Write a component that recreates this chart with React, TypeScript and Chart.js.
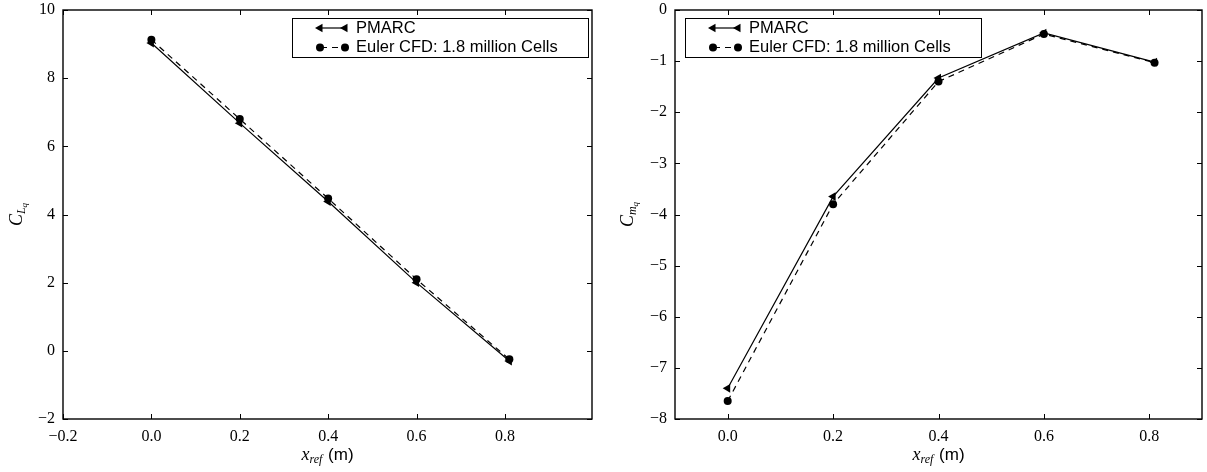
import { useEffect, useRef } from 'react';
import { Chart, registerables } from 'chart.js';

Chart.register(...registerables);

// Reference positions along the body (m)
const xRefPositions = [0.0, 0.2, 0.4, 0.6, 0.81];

// Pitch-rate lift derivative C_Lq
const liftPmarc = [9.03, 6.68, 4.38, 2.0, -0.3];
const liftEuler = [9.13, 6.8, 4.47, 2.1, -0.25];

// Pitch-rate moment derivative C_mq
const momentPmarc = [-7.4, -3.65, -1.33, -0.45, -1.02];
const momentEuler = [-7.65, -3.8, -1.4, -0.47, -1.03];

const liftXTicks = [-0.2, 0.0, 0.2, 0.4, 0.6, 0.8];
const liftYTicks = [-2, 0, 2, 4, 6, 8, 10];
const momentXTicks = [0.0, 0.2, 0.4, 0.6, 0.8];
const momentYTicks = [-8, -7, -6, -5, -4, -3, -2, -1, 0];

const seriesLabels = ['PMARC', 'Euler CFD: 1.8 million Cells'];

const SERIF = "'Liberation Serif', 'DejaVu Serif', serif";
const SANS = "'Liberation Sans', Arial, sans-serif";

const minus = (s: string) => s.replace('-', '\u2212');
const fmtX = (v: number) => minus(v.toFixed(1));
const fmtY = (v: number) => minus(String(Math.round(v)));

type PanelSpec = {
  pmarc: number[];
  euler: number[];
  xMin: number;
  xMax: number;
  yMin: number;
  yMax: number;
  xTicks: number[];
  yTicks: number[];
  yAxisWidth: number;
  padRight: number;
  legendSide: 'left' | 'right';
  ySub: string;
  yTitleX: number;
};

function triangleLeft(ctx: CanvasRenderingContext2D, x: number, y: number, r: number) {
  ctx.beginPath();
  for (let k = 0; k < 3; k++) {
    const ang = -Math.PI / 2 + (k * 2 * Math.PI) / 3;
    const px = x + Math.sin(ang) * r;
    const py = y - Math.cos(ang) * r;
    if (k === 0) ctx.moveTo(px, py);
    else ctx.lineTo(px, py);
  }
  ctx.closePath();
  ctx.fill();
}

function dot(ctx: CanvasRenderingContext2D, x: number, y: number, r: number) {
  ctx.beginPath();
  ctx.arc(x, y, r, 0, Math.PI * 2);
  ctx.fill();
}

function makeDecorations(spec: PanelSpec) {
  return {
    id: 'decorations',
    afterDraw(chart: Chart) {
      const ctx = chart.ctx;
      const a = chart.chartArea;
      const xs = chart.scales.x;
      const ys = chart.scales.y;
      ctx.save();
      ctx.strokeStyle = '#000';
      ctx.fillStyle = '#000';

      // inward tick marks on all four sides
      ctx.lineWidth = 1;
      ctx.beginPath();
      for (const v of spec.xTicks) {
        const px = Math.round(xs.getPixelForValue(v)) + 0.5;
        ctx.moveTo(px, a.bottom);
        ctx.lineTo(px, a.bottom - 5);
        ctx.moveTo(px, a.top);
        ctx.lineTo(px, a.top + 5);
      }
      for (const v of spec.yTicks) {
        const py = Math.round(ys.getPixelForValue(v)) + 0.5;
        ctx.moveTo(a.left, py);
        ctx.lineTo(a.left + 5, py);
        ctx.moveTo(a.right, py);
        ctx.lineTo(a.right - 5, py);
      }
      ctx.stroke();

      // tick labels
      ctx.font = `16px ${SERIF}`;
      ctx.textAlign = 'center';
      ctx.textBaseline = 'top';
      for (const v of spec.xTicks) {
        ctx.fillText(fmtX(v), xs.getPixelForValue(v), a.bottom + 10);
      }
      ctx.textAlign = 'right';
      ctx.textBaseline = 'middle';
      for (const v of spec.yTicks) {
        ctx.fillText(fmtY(v), a.left - 8, ys.getPixelForValue(v));
      }

      // axes frame
      ctx.lineWidth = 1.4;
      ctx.strokeRect(a.left, a.top, a.right - a.left, a.bottom - a.top);

      // legend
      const boxW = 296;
      const boxH = 39;
      const boxTop = a.top + 7.5;
      const boxLeft = spec.legendSide === 'right' ? a.right - 4 - boxW : a.left + 10;
      ctx.fillStyle = '#fff';
      ctx.fillRect(boxLeft, boxTop, boxW, boxH);
      ctx.lineWidth = 1;
      ctx.strokeStyle = '#000';
      ctx.strokeRect(Math.round(boxLeft) + 0.5, Math.round(boxTop) + 0.5, boxW, boxH);
      ctx.fillStyle = '#000';
      const m1 = boxLeft + 28;
      const m2 = boxLeft + 53;
      const rows = [boxTop + 10.5, boxTop + 30];
      // PMARC entry
      ctx.lineWidth = 1.2;
      ctx.setLineDash([]);
      ctx.beginPath();
      ctx.moveTo(m1, rows[0]);
      ctx.lineTo(m2, rows[0]);
      ctx.stroke();
      triangleLeft(ctx, m1, rows[0], 5);
      triangleLeft(ctx, m2, rows[0], 5);
      // Euler entry
      ctx.setLineDash([6, 5]);
      ctx.lineDashOffset = -1;
      ctx.beginPath();
      ctx.moveTo(m1, rows[1]);
      ctx.lineTo(m2, rows[1]);
      ctx.stroke();
      ctx.setLineDash([]);
      dot(ctx, m1, rows[1], 4);
      dot(ctx, m2, rows[1], 4);
      ctx.font = `16.5px ${SANS}`;
      ctx.textBaseline = 'middle';
      ctx.textAlign = 'left';
      ctx.fillText(seriesLabels[0], boxLeft + 64, rows[0]);
      ctx.fillText(seriesLabels[1], boxLeft + 64, rows[1]);

      // x-axis title: x_ref (m)
      ctx.textBaseline = 'alphabetic';
      const xMain = `italic 18px ${SERIF}`;
      const xSub = `italic 12px ${SERIF}`;
      const xUnit = `17px ${SANS}`;
      ctx.font = xMain;
      const wX = ctx.measureText('x').width;
      ctx.font = xSub;
      const wRef = ctx.measureText('ref').width;
      ctx.font = xUnit;
      const wUnit = ctx.measureText(' (m)').width;
      const total = wX + wRef + 1 + wUnit;
      let cx = (a.left + a.right) / 2 - total / 2;
      const by = 460;
      ctx.font = xMain;
      ctx.fillText('x', cx, by);
      cx += wX;
      ctx.font = xSub;
      ctx.fillText('ref', cx, by + 3);
      cx += wRef + 1;
      ctx.font = xUnit;
      ctx.fillText(' (m)', cx, by);

      // y-axis title: C_{L_q} / C_{m_q}, rotated
      ctx.save();
      ctx.translate(spec.yTitleX, (a.top + a.bottom) / 2);
      ctx.rotate(-Math.PI / 2);
      const cMain = `italic 18px ${SERIF}`;
      const cSub = `italic 12px ${SERIF}`;
      const cSub2 = `italic 9px ${SERIF}`;
      ctx.font = cMain;
      const wC = ctx.measureText('C').width;
      ctx.font = cSub;
      const wS = ctx.measureText(spec.ySub).width;
      ctx.font = cSub2;
      const wQ = ctx.measureText('q').width;
      let tx = -(wC + wS + wQ) / 2;
      ctx.font = cMain;
      ctx.fillText('C', tx, 0);
      tx += wC;
      ctx.font = cSub;
      ctx.fillText(spec.ySub, tx, 3);
      tx += wS;
      ctx.font = cSub2;
      ctx.fillText('q', tx, 5);
      ctx.restore();

      ctx.restore();
    },
  };
}

function buildChart(canvas: HTMLCanvasElement, spec: PanelSpec) {
  return new Chart(canvas, {
    type: 'scatter',
    data: {
      datasets: [
        {
          label: seriesLabels[0],
          data: xRefPositions.map((x, i) => ({ x, y: spec.pmarc[i] })),
          showLine: true,
          borderColor: '#000',
          backgroundColor: '#000',
          borderWidth: 1.2,
          pointStyle: 'triangle',
          pointRotation: -90,
          pointRadius: 5,
          pointBorderWidth: 0,
          tension: 0,
        },
        {
          label: seriesLabels[1],
          data: xRefPositions.map((x, i) => ({ x, y: spec.euler[i] })),
          showLine: true,
          borderColor: '#000',
          backgroundColor: '#000',
          borderWidth: 1.2,
          borderDash: [6, 5],
          pointStyle: 'circle',
          pointRadius: 4,
          pointBorderWidth: 0,
          tension: 0,
        },
      ],
    },
    options: {
      responsive: false,
      animation: false,
      clip: false,
      layout: { padding: { left: 0, top: 10, right: spec.padRight, bottom: 0 } },
      plugins: { legend: { display: false }, tooltip: { enabled: false } },
      scales: {
        x: {
          type: 'linear',
          min: spec.xMin,
          max: spec.xMax,
          afterBuildTicks: (s: any) => {
            s.ticks = spec.xTicks.map((v) => ({ value: v }));
          },
          afterFit: (s: any) => {
            s.height = 53;
            s.paddingLeft = 0;
            s.paddingRight = 0;
          },
          grid: { display: false, drawTicks: false },
          border: { display: false },
          ticks: { display: false },
        },
        y: {
          type: 'linear',
          min: spec.yMin,
          max: spec.yMax,
          afterBuildTicks: (s: any) => {
            s.ticks = spec.yTicks.map((v) => ({ value: v }));
          },
          afterFit: (s: any) => {
            s.width = spec.yAxisWidth;
            s.paddingTop = 0;
            s.paddingBottom = 0;
          },
          grid: { display: false, drawTicks: false },
          border: { display: false },
          ticks: { display: false },
        },
      },
    },
    plugins: [makeDecorations(spec)],
  } as any);
}

export default function App() {
  const leftRef = useRef<HTMLCanvasElement>(null);
  const rightRef = useRef<HTMLCanvasElement>(null);

  useEffect(() => {
    const left = buildChart(leftRef.current!, {
      pmarc: liftPmarc,
      euler: liftEuler,
      xMin: -0.2,
      xMax: 0.997,
      yMin: -2,
      yMax: 10,
      xTicks: liftXTicks,
      yTicks: liftYTicks,
      yAxisWidth: 63,
      padRight: 11,
      legendSide: 'right',
      ySub: 'L',
      yTitleX: 22,
    });
    const right = buildChart(rightRef.current!, {
      pmarc: momentPmarc,
      euler: momentEuler,
      xMin: -0.1,
      xMax: 0.9,
      yMin: -8,
      yMax: 0,
      xTicks: momentXTicks,
      yTicks: momentYTicks,
      yAxisWidth: 72,
      padRight: 3,
      legendSide: 'left',
      ySub: 'm',
      yTitleX: 30,
    });
    return () => {
      left.destroy();
      right.destroy();
    };
  }, []);

  return (
    <div
      style={{
        position: 'fixed',
        left: 0,
        top: 0,
        width: 1207,
        height: 472,
        background: '#fff',
      }}
    >
      <canvas ref={leftRef} width={603} height={472} style={{ position: 'absolute', left: 0, top: 0 }} />
      <canvas ref={rightRef} width={604} height={472} style={{ position: 'absolute', left: 603, top: 0 }} />
    </div>
  );
}
